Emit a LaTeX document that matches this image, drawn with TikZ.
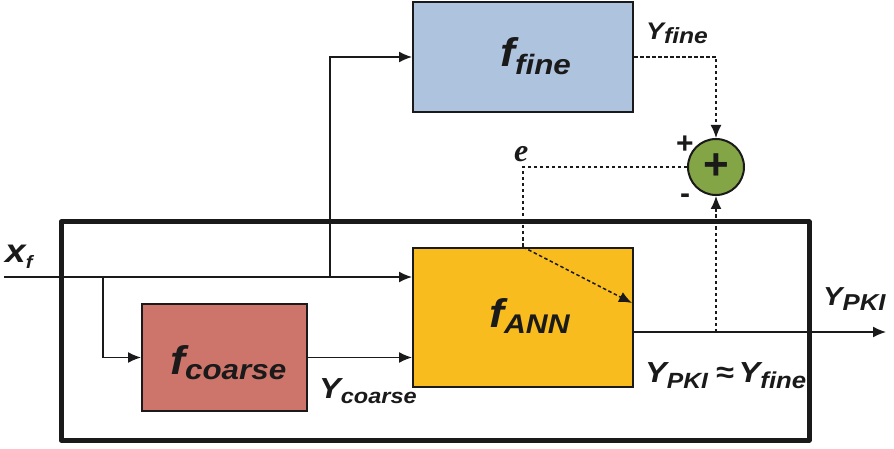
\documentclass[tikz,border=0pt]{standalone}
\usepackage{fontspec}
\setmainfont{Liberation Sans}
\newfontfamily\lblfont{Liberation Sans}[FakeStretch=1.12]
\newfontfamily\efont{Liberation Serif}
\usetikzlibrary{arrows.meta,calc}

\definecolor{fineblue}{HTML}{AEC3DE}
\definecolor{annyellow}{HTML}{F8BC1E}
\definecolor{coarsered}{HTML}{CD756B}
\definecolor{sumgreen}{HTML}{83A545}
\definecolor{ink}{HTML}{1A1A1A}

% main letter, its size, subscript, its size, drop of the subscript
\newcommand\SubLbl[5]{{\fontsize{#2}{#2}\selectfont #1}\raisebox{-#5}{\fontsize{#4}{#4}\selectfont #3}}

\tikzset{
  block/.style={draw=ink, line width=2pt, inner sep=0pt},
  wire/.style={draw=ink, line width=1.5pt},
  arr/.style={wire, -{Latex[length=13pt,width=11pt]}},
  dotwire/.style={wire, dash pattern=on 3.5pt off 2.5pt},
  dotarr/.style={dotwire, -{Latex[length=13pt,width=11pt]}},
  lbl/.style={inner sep=0pt, anchor=base west, font=\lblfont\bfseries\itshape, text=ink},
  sign/.style={inner sep=0pt, font=\bfseries, text=ink},
}

\begin{document}
\begin{tikzpicture}[x=1pt,y=-1pt]
\useasboundingbox (0,0) rectangle (894,449);

% blocks
\node[block, fill=fineblue, minimum width=220pt, minimum height=110pt] (fine) at (523,57) {};
\node[block, fill=annyellow, minimum width=220pt, minimum height=139pt] (ann) at (523,317.5) {};
\node[block, fill=coarsered, minimum width=165pt, minimum height=107pt] (coarse) at (224.5,357.5) {};
\node[draw=ink, line width=2pt, fill=sumgreen, circle, minimum size=56pt, inner sep=0pt] (sum) at (716,167) {};
\node[sign, font=\fontsize{44}{44}\selectfont\bfseries] at (sum.center) {+};

% junctions and free ends
\coordinate (xin) at (4,277);
\coordinate (b1) at (103,277);
\coordinate (b2) at (330,277);
\coordinate (yout) at (886,332);
\coordinate (etip) at (632,303);

% solid signal path
\draw[arr] (xin) -- (xin -| ann.west);
\draw[arr] (b1) |- (coarse.west);
\draw[arr] (b2) |- (fine.west);
\draw[arr] (coarse.east) -- (coarse.east -| ann.west);
\draw[arr] (yout -| ann.east) -- (yout);

% error path
\draw[dotarr] (fine.east) -| (sum.north);
\draw[dotarr] (sum.south |- yout) -- (sum.south);
\draw[dotwire] (sum.west) -| (ann.north);
\draw[dotarr] (ann.north) -- (etip);

% enclosing frame
\draw[draw=ink, line width=5pt, line join=round] (61,222) rectangle (809,440);

% labels
\node[lbl] (lfine) at (500,67) {\SubLbl{f}{40pt}{fine}{28pt}{8pt}};
\node[lbl] (lann) at (489,327) {\SubLbl{f}{40pt}{ANN}{27pt}{6pt}};
\node[lbl] (lcoarse) at (170,374) {\SubLbl{f}{40pt}{coarse}{28pt}{5pt}};
\node[lbl] (lx) at (5,262) {\SubLbl{x}{33pt}{f}{18pt}{6pt}};
\node[lbl] (lyfine) at (646,40) {\SubLbl{Y}{24pt}{fine}{22pt}{4pt}};
\node[lbl] (lycoarse) at (319,398) {\SubLbl{Y}{29pt}{coarse}{21pt}{5pt}};
\node[lbl] (lypki) at (823,305) {\SubLbl{Y}{26pt}{PKI}{23pt}{5pt}};
\node[lbl] (lapprox) at (645,382) {\SubLbl{Y}{29pt}{PKI}{22pt}{6pt}\hspace{8pt}{\fontsize{29pt}{29pt}\selectfont ≈}\hspace{5pt}\SubLbl{Y}{29pt}{fine}{23pt}{6pt}};
\node[inner sep=0pt, anchor=base west, font=\efont\bfseries\itshape\fontsize{32pt}{32pt}\selectfont, text=ink] (le) at (514,162) {e};
\node[sign, font=\fontsize{30pt}{30pt}\selectfont\bfseries] (lplus) at (685,145) {+};
\node[sign, font=\fontsize{30pt}{30pt}\selectfont\bfseries] (lminus) at (685,199) {-};
\end{tikzpicture}
\end{document}
